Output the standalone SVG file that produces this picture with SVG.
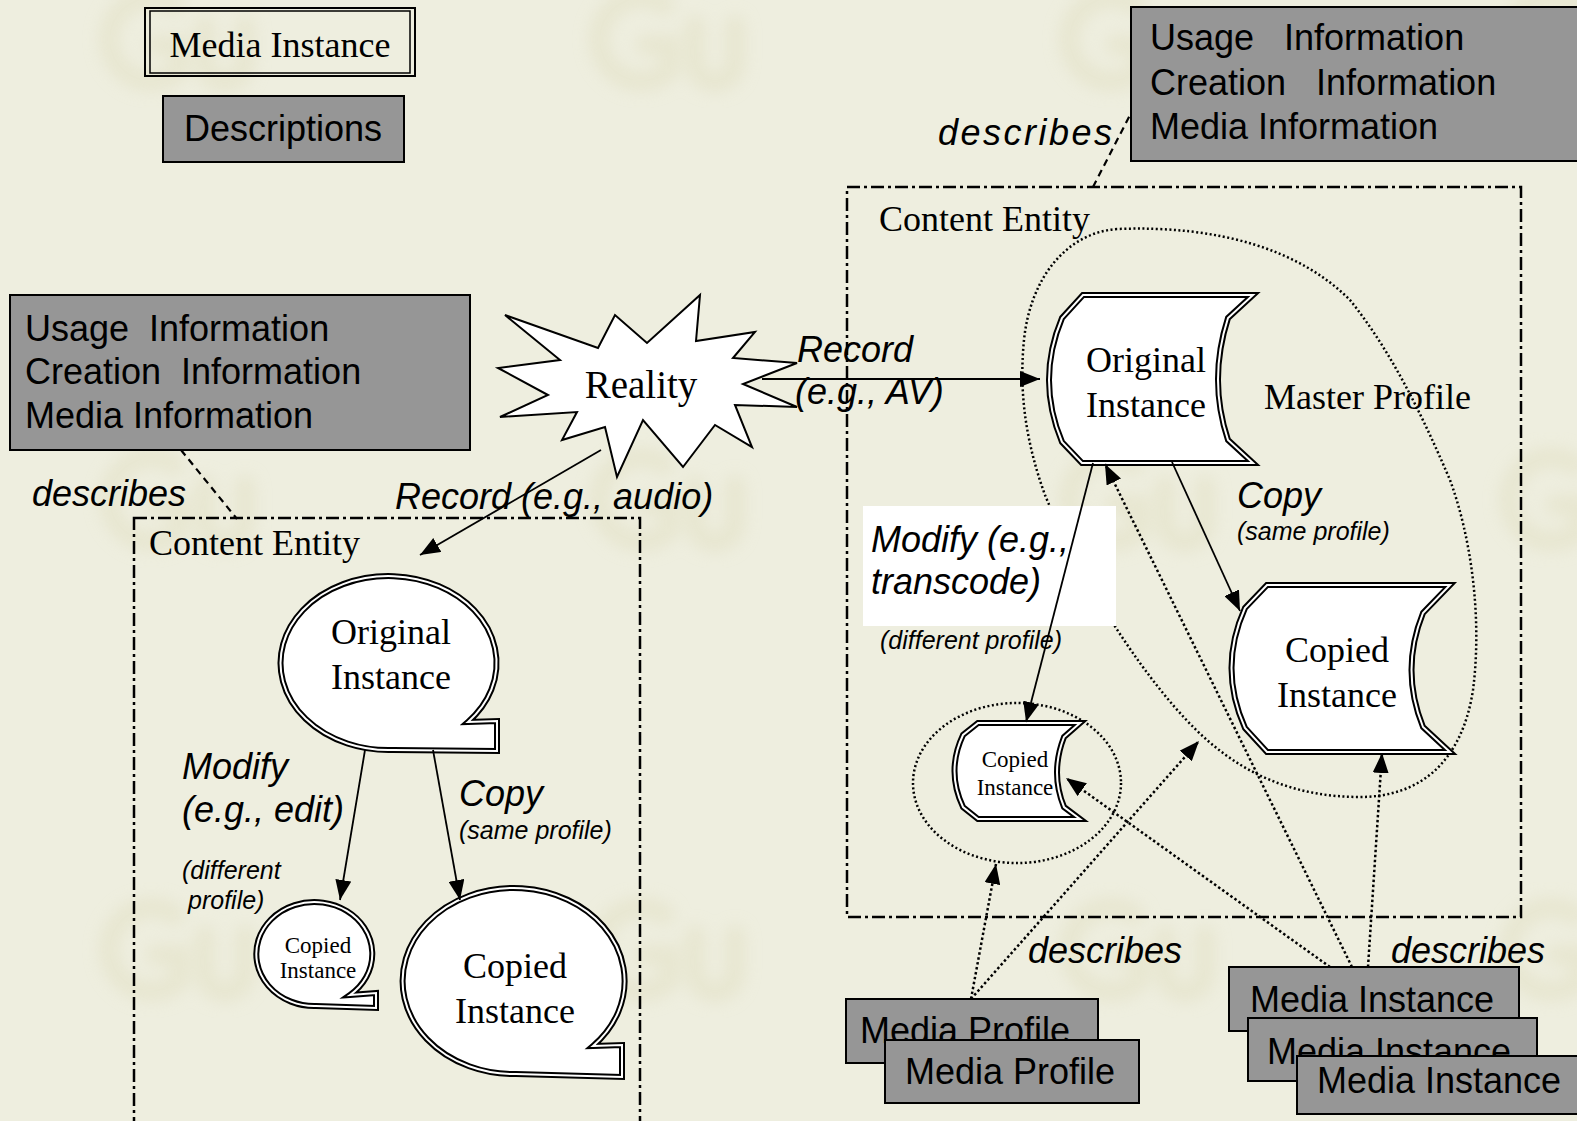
<svg xmlns="http://www.w3.org/2000/svg" xmlns:xlink="http://www.w3.org/1999/xlink" width="1577" height="1121" viewBox="0 0 1577 1121">
  <style>
    .serif { font-family: "Liberation Serif", "Times New Roman", serif; fill: #000; }
    .sans { font-family: "Liberation Sans", Arial, sans-serif; fill: #000; }
    .it { font-style: italic; }
    .gray { fill: #969696; stroke: #000; stroke-width: 2; }
    .entity { fill: none; stroke: #000; stroke-width: 2.5; stroke-dasharray: 13 4 3 4; }
    .outer { fill: #fff; stroke: #000; stroke-width: 6; stroke-linejoin: miter; }
    .inner { fill: none; stroke: #fff; stroke-width: 2; }
    .flow { fill: none; stroke: #000; stroke-width: 1.8; marker-end: url(#arrow); }
    .dotflow { fill: none; stroke: #000; stroke-width: 2.5; stroke-dasharray: 2.5 2.5; marker-end: url(#arrow); }
    .link { fill: none; stroke: #000; stroke-width: 2.2; stroke-dasharray: 7 5; }
    .profile { fill: none; stroke: #000; stroke-width: 2.5; stroke-dasharray: 2 2.5; }
    .wm { fill: none; stroke: #E2E0C4; stroke-width: 20; stroke-linecap: round; }
  </style>
  <defs>
    <marker id="arrow" markerUnits="userSpaceOnUse" viewBox="0 0 20 16" markerWidth="20" markerHeight="16" refX="20" refY="8" orient="auto">
      <path d="M0,0 L20,8 L0,16 Z" fill="#000"/>
    </marker>
    <filter id="soft" x="-30%" y="-30%" width="160%" height="160%">
      <feGaussianBlur stdDeviation="8"/>
    </filter>
    <!-- background emblem -->
    <g id="emblem" filter="url(#soft)" opacity="0.55">
      <path class="wm" d="M 95,15 A 42 42 0 1 0 100,80 L 100,55 L 75,55"/>
      <path class="wm" d="M 125,35 L 125,70 Q 125,92 145,92 Q 165,92 165,70 L 165,35"/>
    </g>
    <!-- speech-bubble outlines -->
    <path id="bubbleOrig" d="M 468,722 L 497,721 L 497,751 L 393,750 A 108 87 0 1 1 468,722 Z"/>
    <path id="bubbleSmall" d="M 350,995 L 376,993 L 376,1008 L 316,1006 A 58 52 0 1 1 350,995 Z"/>
    <path id="bubbleBig" d="M 593,1046 L 622,1045 L 622,1077 L 516,1074 A 111 93 0 1 1 593,1046 Z"/>
    <!-- stored-data outlines -->
    <path id="docOrig" d="M 1083,295 L 1253,295 L 1228,318 Q 1208,380 1228,440 L 1253,463 L 1082,463 L 1062,442 Q 1036,380 1062,318 Z"/>
    <path id="docCopy" d="M 1267,585 L 1450,585 L 1423,613 Q 1400,670 1423,727 L 1450,752 L 1267,752 L 1245,728 Q 1218,668 1245,608 Z"/>
    <path id="docSmall" d="M 978,723 L 1080,723 L 1064,737 Q 1050,773 1064,807 L 1080,819 L 978,819 L 963,807 Q 946,771 963,735 Z"/>
  </defs>

  <!-- page -->
  <rect x="0" y="0" width="1577" height="1121" fill="#EEEEDF"/>
  <g id="backdrop">
    <use xlink:href="#emblem" x="80" y="-10"/>
    <use xlink:href="#emblem" x="570" y="-10"/>
    <use xlink:href="#emblem" x="1040" y="-10"/>
    <use xlink:href="#emblem" x="1480" y="-10"/>
    <use xlink:href="#emblem" x="80" y="450"/>
    <use xlink:href="#emblem" x="570" y="450"/>
    <use xlink:href="#emblem" x="1040" y="450"/>
    <use xlink:href="#emblem" x="1480" y="450"/>
    <use xlink:href="#emblem" x="80" y="900"/>
    <use xlink:href="#emblem" x="570" y="900"/>
    <use xlink:href="#emblem" x="1040" y="900"/>
    <use xlink:href="#emblem" x="1480" y="900"/>
  </g>

  <!-- legend -->
  <g id="legend-media-instance">
    <rect x="145" y="8" width="270" height="68" fill="none" stroke="#000" stroke-width="2"/>
    <rect x="150" y="11" width="260" height="62" fill="none" stroke="#000" stroke-width="1.5"/>
    <text class="serif" x="280" y="57" font-size="36" text-anchor="middle">Media Instance</text>
  </g>
  <g id="legend-descriptions">
    <rect class="gray" x="163" y="96" width="241" height="66"/>
    <text class="sans" x="283" y="141" font-size="36" text-anchor="middle">Descriptions</text>
  </g>

  <!-- content entities -->
  <g id="entity-left">
    <rect class="entity" x="134" y="518" width="506" height="640"/>
    <text class="serif" x="149" y="555" font-size="36">Content Entity</text>
  </g>
  <g id="entity-right">
    <rect class="entity" x="847" y="187" width="674" height="730"/>
    <text class="serif" x="879" y="231" font-size="36">Content Entity</text>
  </g>

  <!-- description sets -->
  <g id="desc-left">
    <rect class="gray" x="10" y="295" width="460" height="155"/>
    <text class="sans" font-size="36" xml:space="preserve"><tspan x="25" y="341">Usage  Information</tspan><tspan x="25" y="384">Creation  Information</tspan><tspan x="25" y="428">Media Information</tspan></text>
  </g>
  <g id="desc-right">
    <rect class="gray" x="1131" y="7" width="460" height="154"/>
    <text class="sans" font-size="36" xml:space="preserve"><tspan x="1150" y="50">Usage   Information</tspan><tspan x="1150" y="95">Creation   Information</tspan><tspan x="1150" y="139">Media Information</tspan></text>
  </g>

  <!-- profile groupings -->
  <g id="master-profile">
    <path class="profile" d="M 1117,229 C 1065,233 1030,280 1024,340 C 1019,390 1025,440 1045,495 C 1080,580 1150,690 1207,740 C 1250,778 1300,797 1360,797 C 1420,797 1462,762 1473,690 C 1482,620 1472,540 1450,480 C 1420,410 1390,350 1350,300 C 1300,250 1220,225 1117,229 Z"/>
    <text class="serif" x="1264" y="409" font-size="36">Master Profile</text>
  </g>
  <g id="small-profile">
    <ellipse class="profile" cx="1017" cy="783" rx="104" ry="80"/>
  </g>

  <!-- label backing for the transcode step -->
  <rect x="863" y="506" width="253" height="120" fill="#fff"/>

  <!-- reality -->
  <g id="reality">
    <polygon points="505,315 598,348 615,315 647,343 700,295 696,341 755,332 733,358 797,363 743,384 797,407 735,405 752,447 715,425 683,467 643,420 617,477 605,427 562,440 577,412 500,417 548,395 498,368 560,360" fill="#fff" stroke="#000" stroke-width="2" stroke-linejoin="miter"/>
    <text class="serif" x="641" y="398" font-size="39" text-anchor="middle">Reality</text>
  </g>

  <!-- instances, left entity -->
  <g id="left-original">
    <use xlink:href="#bubbleOrig" class="outer"/>
    <use xlink:href="#bubbleOrig" class="inner"/>
    <text class="serif" font-size="36" text-anchor="middle"><tspan x="391" y="644">Original</tspan><tspan x="391" y="689">Instance</tspan></text>
  </g>
  <g id="left-copy-small">
    <use xlink:href="#bubbleSmall" class="outer"/>
    <use xlink:href="#bubbleSmall" class="inner"/>
    <text class="serif" font-size="23" text-anchor="middle"><tspan x="318" y="953">Copied</tspan><tspan x="318" y="978">Instance</tspan></text>
  </g>
  <g id="left-copy-big">
    <use xlink:href="#bubbleBig" class="outer"/>
    <use xlink:href="#bubbleBig" class="inner"/>
    <text class="serif" font-size="36" text-anchor="middle"><tspan x="515" y="978">Copied</tspan><tspan x="515" y="1023">Instance</tspan></text>
  </g>

  <!-- instances, right entity -->
  <g id="right-original">
    <use xlink:href="#docOrig" class="outer"/>
    <use xlink:href="#docOrig" class="inner"/>
    <text class="serif" font-size="36" text-anchor="middle"><tspan x="1146" y="372">Original</tspan><tspan x="1146" y="417">Instance</tspan></text>
  </g>
  <g id="right-copy">
    <use xlink:href="#docCopy" class="outer"/>
    <use xlink:href="#docCopy" class="inner"/>
    <text class="serif" font-size="36" text-anchor="middle"><tspan x="1337" y="662">Copied</tspan><tspan x="1337" y="707">Instance</tspan></text>
  </g>
  <g id="right-copy-small">
    <use xlink:href="#docSmall" class="outer"/>
    <use xlink:href="#docSmall" class="inner"/>
    <text class="serif" font-size="23" text-anchor="middle"><tspan x="1015" y="767">Copied</tspan><tspan x="1015" y="795">Instance</tspan></text>
  </g>

  <!-- media profiles and media instances -->
  <g id="media-profile-1">
    <rect class="gray" x="846" y="999" width="252" height="64"/>
    <text class="sans" x="860" y="1043" font-size="36">Media Profile</text>
  </g>
  <g id="media-profile-2">
    <rect class="gray" x="885" y="1040" width="254" height="63"/>
    <text class="sans" x="905" y="1084" font-size="36">Media Profile</text>
  </g>
  <g id="media-instance-1">
    <rect class="gray" x="1229" y="967" width="290" height="64"/>
    <text class="sans" x="1250" y="1012" font-size="36">Media Instance</text>
  </g>
  <g id="media-instance-2">
    <rect class="gray" x="1248" y="1018" width="289" height="63"/>
    <text class="sans" x="1267" y="1064" font-size="36">Media Instance</text>
  </g>
  <g id="media-instance-3">
    <rect class="gray" x="1297" y="1056" width="290" height="58"/>
    <text class="sans" x="1317" y="1093" font-size="36">Media Instance</text>
  </g>

  <!-- connectors -->
  <g id="connectors">
    <path class="flow" d="M 762,379 L 1040,379"/>
    <path class="flow" d="M 601,450 L 420,555"/>
    <path class="flow" d="M 365,750 L 340,900"/>
    <path class="flow" d="M 433,750 L 460,900"/>
    <path class="flow" d="M 1093,463 L 1026,722"/>
    <path class="flow" d="M 1172,462 L 1240,611"/>
    <path class="dotflow" d="M 1352,967 L 1105,464"/>
    <path class="dotflow" d="M 1330,967 L 1066,778"/>
    <path class="dotflow" d="M 1368,967 L 1382,753"/>
    <path class="dotflow" d="M 971,999 L 996,864"/>
    <path class="dotflow" d="M 971,999 L 1199,741"/>
    <path class="link" d="M 181,450 L 237,519"/>
    <path class="link" d="M 1093,187 L 1130,115"/>
  </g>

  <!-- connector labels -->
  <g id="labels">
    <text class="sans it" x="32" y="506" font-size="36">describes</text>
    <text class="sans it" x="938" y="145" font-size="36" letter-spacing="2.5">describes</text>
    <text class="sans it" x="797" y="362" font-size="36">Record</text>
    <text class="sans it" x="795" y="404" font-size="36">(e.g., AV)</text>
    <text class="sans it" x="395" y="509" font-size="36">Record (e.g., audio)</text>
    <text class="sans it" x="182" y="779" font-size="36">Modify</text>
    <text class="sans it" x="182" y="822" font-size="36">(e.g., edit)</text>
    <text class="sans it" x="182" y="879" font-size="25">(different</text>
    <text class="sans it" x="188" y="909" font-size="25">profile)</text>
    <text class="sans it" x="459" y="806" font-size="36">Copy</text>
    <text class="sans it" x="459" y="839" font-size="25">(same profile)</text>
    <text class="sans it" x="871" y="552" font-size="36">Modify (e.g.,</text>
    <text class="sans it" x="871" y="594" font-size="36">transcode)</text>
    <text class="sans it" x="880" y="649" font-size="25">(different profile)</text>
    <text class="sans it" x="1237" y="508" font-size="36">Copy</text>
    <text class="sans it" x="1237" y="540" font-size="25">(same profile)</text>
    <text class="sans it" x="1028" y="963" font-size="36">describes</text>
    <text class="sans it" x="1391" y="963" font-size="36">describes</text>
  </g>
</svg>
